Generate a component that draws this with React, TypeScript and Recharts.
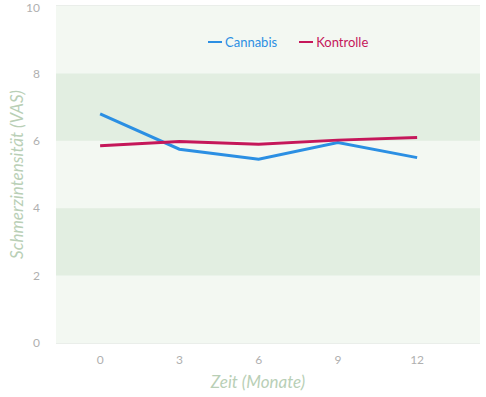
import { LineChart, Line, XAxis, YAxis, CartesianGrid, ReferenceArea, Legend } from "recharts"

const months = [0, 3, 6, 9, 12]
const cannabis = [6.8, 5.75, 5.45, 5.95, 5.5]
const kontrolle = [5.85, 5.98, 5.9, 6.02, 6.1]
const yTicks = [0, 2, 4, 6, 8, 10]

const data = months.map((m, i) => ({ month: m, cannabis: cannabis[i], kontrolle: kontrolle[i] }))

const font = "Lato, 'Open Sans', sans-serif"

function renderLegend(props: any) {
  const { payload } = props
  return (
    <div style={{ display: "flex", fontFamily: font, fontSize: 13 }}>
      {payload.map((entry: any) => (
        <div key={entry.value} style={{ display: "flex", alignItems: "center", marginRight: 22, color: entry.color }}>
          <span style={{ display: "inline-block", width: 14, height: 2, background: entry.color, marginRight: 3 }} />
          {entry.value}
        </div>
      ))}
    </div>
  )
}

export default function App() {
  return (
    <div style={{ position: "absolute", left: 0, top: 0, background: "#fff" }}>
      <LineChart width={486} height={397} data={data} margin={{ top: 6, right: 6, left: 0, bottom: 0 }}>
        <ReferenceArea y1={0} y2={10} fill="#f3f8f2" fillOpacity={1} stroke="none" />
        <ReferenceArea y1={2} y2={4} fill="#e2eee1" fillOpacity={1} stroke="none" />
        <ReferenceArea y1={6} y2={8} fill="#e2eee1" fillOpacity={1} stroke="none" />
        <CartesianGrid vertical={false} stroke="#d6ddd6" strokeWidth={1.2} />
        <XAxis
          dataKey="month"
          type="number"
          domain={[-1.67, 14.38]}
          ticks={months}
          allowDataOverflow
          axisLine={false}
          tickLine={false}
          tickMargin={6}
          height={54}
          tick={{ fill: "#b0b0b0", fontSize: 12, fontFamily: font }}
          label={{ value: "Zeit (Monate)", position: "insideBottom", offset: 9, dx: -10, fill: "#b9cfb6", fontSize: 17, fontStyle: "italic", fontFamily: font }}
        />
        <YAxis
          domain={[0, 10]}
          ticks={yTicks}
          width={56}
          axisLine={false}
          tickLine={false}
          tickMargin={10}
          tick={{ fill: "#b0b0b0", fontSize: 12, fontFamily: font }}
          label={{ value: "Schmerzintensität (VAS)", angle: -90, position: "center", dx: -11, fill: "#b9cfb6", fontSize: 17, fontStyle: "italic", fontFamily: font }}
        />
        <Legend content={renderLegend} verticalAlign="middle" align="center" wrapperStyle={{ top: 34, left: 208, width: 220 }} />
        <Line dataKey="cannabis" name="Cannabis" stroke="#2b8fe3" strokeWidth={3} dot={false} isAnimationActive={false} />
        <Line dataKey="kontrolle" name="Kontrolle" stroke="#c5175a" strokeWidth={3} dot={false} isAnimationActive={false} />
      </LineChart>
    </div>
  )
}
